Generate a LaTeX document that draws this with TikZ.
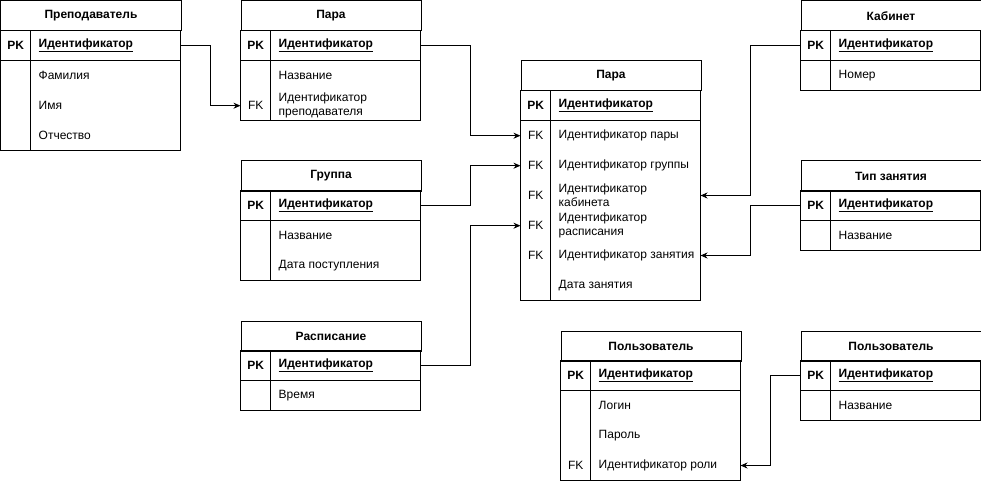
\documentclass[tikz,border=0pt]{standalone}
\usepackage{fontspec}
\setmainfont{Liberation Sans}
\usetikzlibrary{arrows.meta}

\tikzset{
  base/.style={font=\fontsize{12}{14}\selectfont, inner ysep=0pt, anchor=north west},
  hdr/.style={base, draw, line width=1pt, minimum width=180pt, minimum height=30pt, font=\fontsize{12}{14}\selectfont\bfseries},
  keycell/.style={base, minimum width=30pt, minimum height=30pt, inner xsep=0pt},
  fldcell/.style={base, inner xsep=8pt, minimum height=30pt, align=left},
  frame/.style={line width=1pt},
  link/.style={line width=1pt, -{Stealth[length=7pt,width=6pt]}},
}

% #1 name, #2 x, #3 y, #4 title, #5 number of rows, #6 rows as key/field
\newcommand\ertable[6]{%
  \node[hdr] (#1) at (#2,#3) {#4};
  \foreach \k/\f [count=\i] in {#6} {
    \node[keycell] (#1-k\i) at (#2,#3+30*\i) {\k};
    \node[fldcell] (#1-f\i) at (#2+30,#3+30*\i) {\f};
    \coordinate (#1-e\i) at (#2+180,#3+15+30*\i);
  }
  \draw[frame] (#2,#3+30) rectangle (#2+180,#3+30+30*#5);
  \draw[frame] (#2,#3+60) -- (#2+180,#3+60);
  \draw[frame] (#2+30,#3+30) -- (#2+30,#3+30+30*#5);
}

\newcommand\pkkey{\textbf{PK}}
\newcommand\pkfield{\textbf{\underline{Идентификатор}}}

\begin{document}
\begin{tikzpicture}[x=1pt,y=-1pt]
\useasboundingbox (-0.5,-0.5) rectangle (980.5,480.5);

\ertable{teacher}{0}{0}{Преподаватель}{4}{\pkkey/\pkfield, {}/Фамилия, {}/Имя, {}/Отчество}
\ertable{lesson}{240}{0}{Пара}{3}{\pkkey/\pkfield, {}/Название, FK/{Идентификатор\\преподавателя}}
\ertable{group}{240}{160}{Группа}{3}{\pkkey/\pkfield, {}/Название, {}/Дата поступления}
\ertable{sched}{240}{320}{Расписание}{2}{\pkkey/\pkfield, {}/Время}
\ertable{pair}{520}{60}{Пара}{7}{\pkkey/\pkfield, FK/Идентификатор пары, FK/Идентификатор группы, FK/{Идентификатор\\кабинета}, FK/{Идентификатор\\расписания}, FK/Идентификатор занятия, {}/Дата занятия}
\ertable{room}{800}{0}{Кабинет}{2}{\pkkey/\pkfield, {}/Номер}
\ertable{kind}{800}{160}{Тип занятия}{2}{\pkkey/\pkfield, {}/Название}
\ertable{user}{560}{330}{Пользователь}{4}{\pkkey/\pkfield, {}/Логин, {}/Пароль, FK/Идентификатор роли}
\ertable{role}{800}{330}{Пользователь}{2}{\pkkey/\pkfield, {}/Название}

% foreign key links
\draw[link] (teacher-e1) -- ++(30,0) |- (lesson-k3.west);
\draw[link] (lesson-e1) -- ++(50,0) |- (pair-k2.west);
\draw[link] (group-e1) -- ++(50,0) |- (pair-k3.west);
\draw[link] (sched-e1) -- ++(50,0) |- (pair-k5.west);
\draw[link] (room-k1.west) -- ++(-50,0) |- (pair-e4);
\draw[link] (kind-k1.west) -- ++(-50,0) |- (pair-e6);
\draw[link] (role-k1.west) -- ++(-30,0) |- (user-e4);
\end{tikzpicture}
\end{document}
